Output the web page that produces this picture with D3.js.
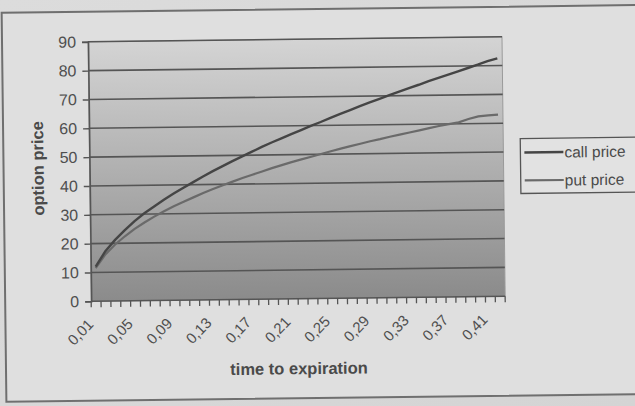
<!DOCTYPE html>
<html>
<head>
<meta charset="utf-8">
<script src="https://cdn.jsdelivr.net/npm/d3@7/dist/d3.min.js"></script>
<style>
  html, body { margin: 0; padding: 0; background: #d9d9d9; }
  svg { display: block; }
  text { font-family: "Liberation Sans", Arial, sans-serif; }
</style>
</head>
<body>
<script>
// Time to expiration (years), one category per point
const categories = [0.01, 0.02, 0.03, 0.04, 0.05, 0.06, 0.07, 0.08, 0.09, 0.10,
                    0.11, 0.12, 0.13, 0.14, 0.15, 0.16, 0.17, 0.18, 0.19, 0.20,
                    0.21, 0.22, 0.23, 0.24, 0.25, 0.26, 0.27, 0.28, 0.29, 0.30,
                    0.31, 0.32, 0.33, 0.34, 0.35, 0.36, 0.37, 0.38, 0.39, 0.40,
                    0.41, 0.42];

const callPrice = [12.0, 17.3, 21.2, 24.5, 27.6, 30.3, 32.6, 34.9, 37.0, 39.0,
                   40.9, 42.8, 44.6, 46.3, 48.0, 49.6, 51.2, 52.8, 54.3, 55.7,
                   57.1, 58.5, 59.9, 61.2, 62.6, 63.9, 65.2, 66.5, 67.8, 69.0,
                   70.2, 71.4, 72.6, 73.7, 74.9, 76.0, 77.1, 78.2, 79.3, 80.4,
                   81.6, 82.5];

const putPrice = [11.5, 16.2, 19.6, 22.4, 24.9, 27.1, 29.1, 30.9, 32.6, 34.1,
                  35.6, 37.1, 38.4, 39.7, 40.9, 42.1, 43.2, 44.3, 45.4, 46.4,
                  47.4, 48.3, 49.2, 50.1, 51.0, 51.9, 52.7, 53.5, 54.3, 55.0,
                  55.8, 56.5, 57.2, 57.9, 58.6, 59.3, 59.9, 60.5, 61.6, 62.5,
                  62.8, 63.0];

const yTicks = [0, 10, 20, 30, 40, 50, 60, 70, 80, 90];
const xLabelEvery = 4;
const seriesNames = ["call price", "put price"];

const W = 635, H = 406;
const fmt = v => d3.format(".2f")(v).replace(".", ",");

const svg = d3.select("body").append("svg")
  .attr("width", W).attr("height", H);

const defs = svg.append("defs");
const grad = defs.append("linearGradient")
  .attr("id", "plotFill").attr("x1", 0).attr("y1", 0).attr("x2", 0).attr("y2", 1);
grad.append("stop").attr("offset", "0%").attr("stop-color", "#d4d4d4");
grad.append("stop").attr("offset", "55%").attr("stop-color", "#acacac");
grad.append("stop").attr("offset", "100%").attr("stop-color", "#8b8b8b");

const bgGrad = defs.append("linearGradient")
  .attr("id", "pageFill").attr("x1", 0).attr("y1", 0).attr("x2", 1).attr("y2", 1);
bgGrad.append("stop").attr("offset", "0%").attr("stop-color", "#dcdcdc");
bgGrad.append("stop").attr("offset", "100%").attr("stop-color", "#d4d4d4");

svg.append("rect").attr("width", W).attr("height", H).attr("fill", "url(#pageFill)");

// The whole chart sits slightly tilted
const g = svg.append("g").attr("transform", "rotate(-0.7 318 203)");

// Chart frame
g.append("rect")
  .attr("x", 4).attr("y", 9).attr("width", 720).attr("height", 389)
  .attr("fill", "#dfdfdf").attr("stroke", "#6f6f6f").attr("stroke-width", 2);

const plot = { left: 90, right: 504, top: 39, bottom: 298.5 };

const x = d3.scaleBand()
  .domain(categories)
  .range([plot.left, plot.right]);

const y = d3.scaleLinear()
  .domain([0, 90])
  .range([plot.bottom, plot.top]);

// Plot area
g.append("rect")
  .attr("x", plot.left).attr("y", plot.top)
  .attr("width", plot.right - plot.left).attr("height", plot.bottom - plot.top)
  .attr("fill", "url(#plotFill)")
  .attr("stroke", "#9a9a9a").attr("stroke-width", 1);

// Horizontal gridlines
g.append("g").selectAll("line").data(yTicks.filter(d => d > 0)).join("line")
  .attr("x1", plot.left).attr("x2", plot.right)
  .attr("y1", d => y(d)).attr("y2", d => y(d))
  .attr("stroke", "#555").attr("stroke-width", 1.6);

// Y axis
const yAxis = g.append("g")
  .attr("transform", `translate(${plot.left},0)`)
  .call(d3.axisLeft(y).tickValues(yTicks).tickSize(6).tickPadding(6));
yAxis.select(".domain").attr("stroke", "#555").attr("stroke-width", 1.6);
yAxis.selectAll(".tick line").attr("stroke", "#555").attr("stroke-width", 1.4);
yAxis.selectAll(".tick text")
  .attr("fill", "#4f4f4f").style("font-size", "16px")
  .style("font-family", "'Liberation Sans', Arial, sans-serif");

// X axis: ticks on category boundaries, labels on every 4th category
const boundaries = categories.map(c => x(c)).concat([plot.right]);
const xAxis = g.append("g");
xAxis.append("line")
  .attr("x1", plot.left).attr("x2", plot.right)
  .attr("y1", plot.bottom).attr("y2", plot.bottom)
  .attr("stroke", "#555").attr("stroke-width", 1.6);
xAxis.selectAll("line.tk").data(boundaries).join("line")
  .attr("class", "tk")
  .attr("x1", d => d).attr("x2", d => d)
  .attr("y1", plot.bottom).attr("y2", plot.bottom + 6)
  .attr("stroke", "#555").attr("stroke-width", 1.3);
xAxis.selectAll("text").data(categories.filter((c, i) => i % xLabelEvery === 0)).join("text")
  .attr("transform", d => `translate(${x(d) + x.bandwidth() / 2 - 2},${plot.bottom + 24}) rotate(-45)`)
  .attr("text-anchor", "end")
  .attr("fill", "#4f4f4f")
  .style("font-size", "15px")
  .text(d => fmt(d));

// Series lines
const line = d3.line()
  .x((d, i) => x(categories[i]) + x.bandwidth() / 2)
  .y(d => y(d));

g.append("path").datum(putPrice)
  .attr("d", line).attr("fill", "none")
  .attr("stroke", "#6a6a6a").attr("stroke-width", 2.2);
g.append("path").datum(callPrice)
  .attr("d", line).attr("fill", "none")
  .attr("stroke", "#454545").attr("stroke-width", 2.4);

// Axis titles
g.append("text")
  .attr("transform", "translate(44,165) rotate(-90)")
  .attr("text-anchor", "middle")
  .attr("fill", "#4a4a4a")
  .style("font-size", "16.5px").style("font-weight", "bold")
  .text("option price");

g.append("text")
  .attr("x", 297).attr("y", 374)
  .attr("text-anchor", "middle")
  .attr("fill", "#4a4a4a")
  .style("font-size", "16.5px").style("font-weight", "bold")
  .text("time to expiration");

// Legend
const legend = g.append("g");
legend.append("rect")
  .attr("x", 521).attr("y", 141).attr("width", 130).attr("height", 55)
  .attr("fill", "#e2e2e2").attr("stroke", "#555").attr("stroke-width", 1.3);
const legendRows = legend.selectAll("g.row").data(seriesNames).join("g")
  .attr("class", "row")
  .attr("transform", (d, i) => `translate(0,${155 + i * 28})`);
legendRows.append("line")
  .attr("x1", 525).attr("x2", 564).attr("y1", 0).attr("y2", 0)
  .attr("stroke", (d, i) => i === 0 ? "#454545" : "#6a6a6a")
  .attr("stroke-width", (d, i) => i === 0 ? 2.4 : 2.2);
legendRows.append("text")
  .attr("x", 565).attr("y", 5.5)
  .attr("fill", "#4a4a4a")
  .style("font-size", "15.5px")
  .text(d => d);
</script>
</body>
</html>
